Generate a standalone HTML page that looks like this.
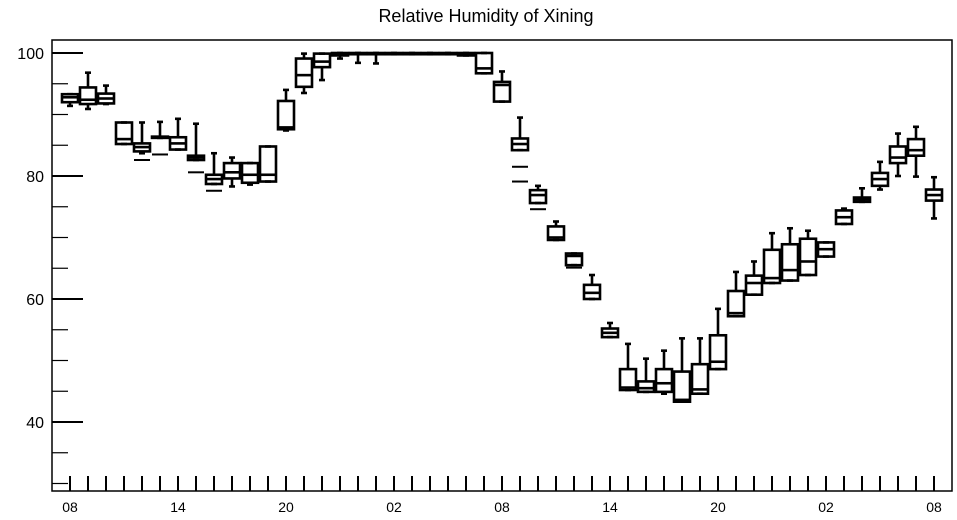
<!DOCTYPE html>
<html><head><meta charset="utf-8"><style>
body{margin:0;background:#fff;}
svg{display:block;font-family:"Liberation Sans",sans-serif;}
</style></head><body>
<svg id="chart" width="957" height="520">
<text x="486" y="22" text-anchor="middle" font-size="18">Relative Humidity of Xining</text>
<g id="axes"></g><g id="marks"></g>
</svg>
<script>
const hours = ["08","09","10","11","12","13","14","15","16","17","18","19","20","21","22","23","00","01","02","03","04","05","06","07","08","09","10","11","12","13","14","15","16","17","18","19","20","21","22","23","00","01","02","03","04","05","06","07","08"];
const q1 = [92.0,91.7,91.8,85.2,84.0,86.2,84.3,82.6,78.7,79.6,78.9,79.1,87.6,94.5,97.7,99.6,99.8,99.8,99.8,99.8,99.8,99.8,99.6,96.7,92.1,84.2,75.6,69.6,65.5,60.0,53.8,45.2,44.9,44.9,43.3,44.6,48.6,57.2,60.7,62.6,63.0,63.9,66.9,72.2,75.8,78.4,82.1,83.3,76.0];
const med = [92.8,92.4,92.6,86.0,84.7,86.3,85.3,83.0,79.5,80.6,80.2,80.2,87.9,96.4,98.6,99.8,99.9,99.9,99.9,99.9,99.9,99.9,99.8,97.5,94.8,85.2,76.9,70.0,67.0,61.0,54.5,45.6,45.5,46.3,43.6,45.3,49.8,57.7,62.6,63.4,64.7,66.1,68.1,73.3,76.2,79.5,83.0,84.2,76.9];
const q3 = [93.3,94.4,93.4,88.7,85.3,86.4,86.3,83.3,80.2,82.1,82.1,84.8,92.2,99.1,99.9,100,100,100,100,100,100,100,100,100,95.3,86.1,77.7,71.8,67.4,62.3,55.2,48.6,46.6,48.6,48.2,49.4,54.1,61.3,63.8,68.0,68.9,69.8,69.2,74.4,76.5,80.5,84.8,86.0,77.8];
const lo = [91.4,90.9,91.7,85.2,83.7,86.2,84.3,82.6,78.7,78.3,78.6,79.1,87.4,93.5,95.6,99.1,98.4,98.3,99.8,99.8,99.8,99.8,99.6,96.7,92.1,84.2,75.6,69.6,65.5,60.0,53.8,45.2,44.9,44.6,43.3,44.6,48.6,57.2,60.7,62.6,63.0,63.9,66.9,72.2,75.8,77.8,80.0,79.9,73.1];
const hi = [93.3,96.8,94.7,88.7,88.7,88.8,89.3,88.5,83.7,83.0,82.1,84.8,94.0,99.9,99.9,100,100,100,100,100,100,100,100,100,97.0,89.5,78.4,72.6,67.4,63.9,56.1,52.7,50.3,51.6,53.6,53.6,58.4,64.4,66.1,70.7,71.5,71.1,69.2,74.7,78.0,82.3,86.9,88.0,79.8];
const outHour = [4,5,7,8,25,25,26,28];
const outVal = [82.6,83.5,80.6,77.6,81.5,79.1,74.6,65.1];
const yTicks = [40,60,80,100];
const xLabelIdx = [0,6,12,18,24,30,36,42,48];

const L=52,R=952,T=40,B=491;
const X=i=>70+i*18;
const Y=v=>53+(100-v)*6.15;
const NS="http://www.w3.org/2000/svg";
const axes=document.getElementById('axes'),marks=document.getElementById('marks');
function mk(tag,attrs,parent){const e=document.createElementNS(NS,tag);for(const k in attrs)e.setAttribute(k,attrs[k]);parent.appendChild(e);return e;}
const frame=mk('rect',{x:L,y:T,width:R-L,height:B-T,fill:'none',stroke:'#000','stroke-width':1.5},axes);


for(let v=30;v<=100;v+=5){
  const major=v%20===0;
  const t=mk('line',{x1:L,x2:L+(major?31:16),y1:Y(v),y2:Y(v),stroke:'#000','stroke-width':major?2:1.2},axes);
  
  
}
yTicks.forEach(v=>{
  const t=mk('text',{x:L-8,y:Y(v)+6,'text-anchor':'end','font-size':16},axes);t.textContent=v;
  
  
});
hours.forEach((h,i)=>{
  const t=mk('line',{x1:X(i),x2:X(i),y1:B,y2:B-15,stroke:'#000','stroke-width':2},axes);
  
  
});
xLabelIdx.forEach(i=>{
  const t=mk('text',{x:X(i),y:512,'text-anchor':'middle','font-size':14},axes);t.textContent=hours[i];
  
  
});
const sw=2.6;
hours.forEach((h,i)=>{
  const g=mk('g',{stroke:'#000','stroke-width':sw,fill:'none'},marks);
  
  
  const x=X(i);
  mk('line',{x1:x,x2:x,y1:Y(hi[i]),y2:Y(q3[i])},g);
  mk('line',{x1:x,x2:x,y1:Y(q1[i]),y2:Y(lo[i])},g);
  mk('line',{x1:x-3,x2:x+3,y1:Y(hi[i]),y2:Y(hi[i])},g);
  mk('line',{x1:x-3,x2:x+3,y1:Y(lo[i]),y2:Y(lo[i])},g);
  const top=Y(q3[i]),bot=Y(q1[i]);
  mk('rect',{x:x-8,y:top,width:16,height:Math.max(bot-top,0.5)},g);
  mk('line',{x1:x-8,x2:x+8,y1:Y(med[i]),y2:Y(med[i])},g);
});
outHour.forEach((h,k)=>{
  const o=mk('line',{x1:X(h)-8,x2:X(h)+8,y1:Y(outVal[k]),y2:Y(outVal[k]),stroke:'#000','stroke-width':2},marks);
  
  
});
</script>
</body></html>
